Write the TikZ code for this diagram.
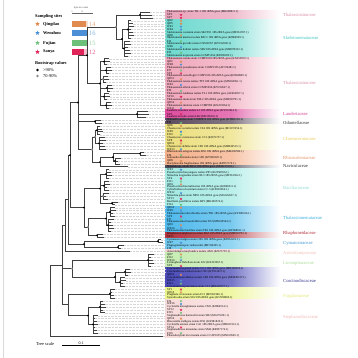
\documentclass[tikz,border=0pt]{standalone}
\usepackage{fontspec}
\setmainfont{Liberation Serif}
\usetikzlibrary{shapes.geometric}
% site colours
\definecolor{QDc}{HTML}{E08A50}
\definecolor{WZc}{HTML}{4C8FD6}
\definecolor{FJc}{HTML}{6CC07A}
\definecolor{SYc}{HTML}{E0245A}
% band colours
\definecolor{bThA}{HTML}{E9A3BA}
\definecolor{bSk}{HTML}{6ED9CF}
\definecolor{bThB}{HTML}{F0A8BC}
\definecolor{bLa}{HTML}{DE4C9E}
\definecolor{bOd}{HTML}{5B4B5E}
\definecolor{bCh}{HTML}{ECDF7E}
\definecolor{bRh}{HTML}{F4B08A}
\definecolor{bNa}{HTML}{4D4D5C}
\definecolor{bBa}{HTML}{A4EAE3}
\definecolor{bTn}{HTML}{4FBAEC}
\definecolor{bRp}{HTML}{B2353F}
\definecolor{bCy}{HTML}{6FC8EE}
\definecolor{bAs}{HTML}{F5D3D3}
\definecolor{bLi}{HTML}{C6ECB2}
\definecolor{bCo}{HTML}{4A4AB8}
\definecolor{bFr}{HTML}{EAF488}
\definecolor{bSt}{HTML}{F8DADA}
% family label colours
\definecolor{fTh}{HTML}{D98AA5}
\definecolor{fSk}{HTML}{3CC5BE}
\definecolor{fLa}{HTML}{D23D92}
\definecolor{fDk}{HTML}{333333}
\definecolor{fCh}{HTML}{E6C94A}
\definecolor{fRh}{HTML}{E49065}
\definecolor{fBa}{HTML}{8FD9D3}
\definecolor{fTn}{HTML}{38AEDF}
\definecolor{fRp}{HTML}{B02A36}
\definecolor{fCy}{HTML}{3D96CF}
\definecolor{fAs}{HTML}{F2BDB5}
\definecolor{fLi}{HTML}{A8DC94}
\definecolor{fCo}{HTML}{34348F}
\definecolor{fFr}{HTML}{E3E66E}
\definecolor{fSt}{HTML}{F0B6B6}
\tikzset{
  br/.style={draw=black!75, line width=0.55pt, line cap=rect},
  gd/.style={draw=black!16, line width=0.25pt, dash pattern=on 0.6pt off 0.8pt},
  lbl/.style={anchor=west, inner sep=0pt, font=\fontsize{2.9}{3}\selectfont},
  fam/.style={anchor=west, inner sep=0pt, font=\fontsize{4.6}{5}\selectfont},
  leg/.style={anchor=west, inner sep=0pt, font=\fontsize{4.4}{5}\selectfont},
  legb/.style={anchor=west, inner sep=0pt, font=\fontsize{4.4}{5}\selectfont\bfseries},
  mk/.style={star, star points=5, star point ratio=2.2, minimum size=2.8pt, inner sep=0pt, draw=none},
  bigmk/.style={star, star points=5, star point ratio=2.2, minimum size=4.6pt, inner sep=0pt, draw=none},
}
\newcommand\tCl[4]{%
  \draw[br] (#1,#2) -- (#1,#3);
  \foreach \r in {#2,...,#3}{%
    \pgfmathsetmacro\tp{#4+mod(\r,3)*1.5}%
    \draw[br] (#1,\r) -- (\tp,\r);
    \draw[gd] (\tp,\r) -- (165,\r);
  }%
}
\newcommand\tLf[3]{\draw[br] (#1,#2) -- (#3,#2); \draw[gd] (#3,#2) -- (165,#2);}
\newcommand\tCn[3]{\draw[br] (#1,#3) -- (#2,#3);}
\newcommand\tVt[3]{\draw[br] (#1,#2) -- (#1,#3);}
\newcommand\bB[2]{\fill[black] (#1,#2) circle (1.05pt);}
\newcommand\bG[2]{\fill[black!45] (#1,#2) circle (1.05pt);}
\begin{document}
\begin{tikzpicture}[x=1pt,y=-1pt]
\useasboundingbox (0,0) rectangle (358,358);
\fill[white] (0,0) rectangle (358,358);
\draw[black!15, line width=0.6pt] (3.5,0) -- (3.5,358);

% ---------- legend ----------
\node[anchor=south, inner sep=0pt, font=\fontsize{2.6}{3}\selectfont, text=black!70] (hdr) at (81,9.5) {Species count};
\draw[black!60, line width=0.3pt] (72,13) -- (92,13);
\foreach \t in {72,82,92}{\draw[black!60, line width=0.3pt] (\t,13) -- (\t,14.2);}
\node[anchor=south, inner sep=0pt, font=\fontsize{2.2}{2.5}\selectfont, text=black!60] at (72,12.6) {0};
\node[anchor=south, inner sep=0pt, font=\fontsize{2.2}{2.5}\selectfont, text=black!60] at (82,12.6) {10};
\node[legb] (ss) at (35,16.5) {Sampling sites};
\foreach \yy/\nm/\cc/\n in {24/Qingdao/QDc/14, 33/Wenzhou/WZc/16, 43/Fujian/FJc/15, 52/Sanya/SYc/12}{
  \node[bigmk, fill=\cc] at (37.5,\yy) {};
  \node[legb] at (43,\yy) {\nm};
  \fill[\cc!30] (72,\yy-2.6) rectangle (88,\yy+2.6);
  \fill[\cc] (72,\yy-2.6) rectangle (72+\n,\yy+2.6);
  \node[anchor=west, inner sep=0pt, font=\fontsize{6.5}{6.5}\selectfont, text=\cc!70] at (88.8,\yy) {\n};
}
\node[legb] (bv) at (35,63.5) {Bootstrap values};
\fill[black] (37.5,70) circle (1.3pt);
\node[leg] at (43,70) {>90\%};
\fill[black!45] (37.5,76) circle (1.3pt);
\node[leg] at (43,76) {70-90\%};

% tree scale
\node[leg] (ts) at (36,343.5) {Tree scale};
\coordinate (sa) at (62,345.5);
\coordinate (sb) at (100,345.5);
\draw[black, line width=0.5pt] (sa) -- (sb);
\node[anchor=south, inner sep=0pt, font=\fontsize{4}{4}\selectfont] at (81,344.3) {0.1};

\begin{scope}[yshift=-12pt, y=-2.92pt]
% ---------- bands ----------
\foreach \a/\b/\c in {0/2/bThA, 3/15/bSk, 16/33/bThB, 34/36/bLa, 37/38/bOd, 39/47/bCh, 48/52/bRh, 53/53/bNa, 54/66/bBa, 67/75/bTn, 76/77/bRp, 78/81/bCy, 82/82/bAs, 83/87/bLi, 88/94/bCo, 95/98/bFr, 99/111/bSt}{
  \shade[left color=\c, right color=\c!75!white] (165,\a-0.5) rectangle (232,\b+0.5);
  \shade[left color=\c!75!white, right color=white] (231.8,\a-0.5) rectangle (280,\b+0.5);
}
% ---------- family labels ----------
\node[fam, text=fTh] at (283,1) {Thalassiosiraceae};
\node[fam, text=fSk] at (283,8.9) {Skeletonemataceae};
\node[fam, text=fTh] at (283,24.3) {Thalassiosiraceae};
\node[fam, text=fLa] at (283,34.9) {Lauderiaceae};
\node[fam, text=fDk] at (283,38) {Odontellaceae};
\node[fam, text=fCh] at (283,43.5) {Chaetocerotaceae};
\node[fam, text=fRh] at (283,50) {Rhizosoleniaceae};
\node[fam, text=fDk] at (283,52.7) {Naviculaceae};
\node[fam, text=fBa] at (283,60.3) {Bacillariaceae};
\node[fam, text=fTn] at (283,70.5) {Thalassionemataceae};
\node[fam, text=fRp] at (283,75.7) {Rhaphoneidaceae};
\node[fam, text=fCy] at (283,79.1) {Cymatosiraceae};
\node[fam, text=fAs] at (283,82.5) {Asterolampraceae};
\node[fam, text=fLi] at (283,86) {Licmophoraceae};
\node[fam, text=fCo] at (283,92) {Coscinodiscaceae};
\node[fam, text=fFr] at (283,97.3) {Fragilariaceae};
\node[fam, text=fSt] at (283,104.5) {Stephanodiscaceae};

% ---------- leaf labels ----------
\foreach \r/\t in {
0/{Thalassiosira sp. strain TH-1 18S rRNA gene (MK089811.1)},
1/SY3, 2/SY7, 3/QD2, 4/QD5, 5/WZ1, 6/WZ4,
7/{Skeletonema costatum strain SKCT01 18S rRNA gene (MF361957.1)},
8/QD9,
9/{Skeletonema marinoi isolate BSC1 18S rRNA gene (KJ866909.1)},
10/FJ2,
11/{Skeletonema grevillei strain CNS00357 (KY912609.1)},
12/WZ6,
13/{Skeletonema dohrnii isolate SD2 18S rRNA gene (MH070332.1)},
14/FJ5,
15/{Skeletonema tropicum strain CCMP1334 (KT896035.1)},
16/{Thalassiosira rotula strain CCMP1018 18S rRNA gene (KX253959.1)},
17/QD1, 18/WZ8,
19/{Thalassiosira pseudonana strain CCMP1335 (AF374481.1)},
20/FJ7, 21/SY2,
22/{Thalassiosira weissflogii CCMP1336 18S rRNA gene (KF668609.1)},
23/QD11,
24/{Thalassiosira tenera isolate TT3 18S rRNA gene (MN160561.1)},
25/WZ2,
26/{Thalassiosira allenii strain CCMP1056 (KY912627.1)},
27/FJ9,
28/{Thalassiosira lundiana isolate TL1 18S rRNA gene (AF462057.1)},
29/SY10,
30/{Thalassiosira mala strain TM-2 18S rRNA gene (MH393791.1)},
31/QD14,
32/{Thalassiosira minima strain CCMP990 (KX253964.1)},
33/WZ11,
34/{Lauderia annulata isolate L1 18S rRNA gene (KY912614.1)},
35/SY5,
36/{Lauderia borealis strain LB2 (MF356302.1)},
37/{Odontella aurita strain CCMP816 18S rRNA gene (KT861218.1)},
38/FJ3, 39/QD6,
40/{Chaetoceros socialis isolate CS4 18S rRNA gene (MG972256.1)},
41/WZ9, 42/FJ10,
43/{Chaetoceros curvisetus strain CC1 (KJ671737.1)},
44/SY8, 45/QD12,
46/{Chaetoceros debilis strain CD1 18S rRNA gene (MH049513.1)},
47/WZ13,
48/{Rhizosolenia setigera isolate RS2 18S rRNA gene (MK300569.1)},
49/FJ6,
50/{Guinardia delicatula strain GD1 (KY980329.1)},
51/QD8,
52/{Dactyliosolen fragilissimus 18S rRNA gene (KF857170.1)},
53/{Navicula sp. strain NV-2 18S rRNA gene (MH021910.1)},
54/WZ3,
55/{Pseudo-nitzschia pungens isolate PP1 (KU958056.1)},
56/{Nitzschia longissima strain NL3 18S rRNA gene (MF361962.1)},
57/SY4, 58/FJ11, 59/QD4,
60/{Pseudo-nitzschia multiseries 18S rRNA gene (KJ866911.1)},
61/{Cylindrotheca closterium strain CC-5 (KX981816.1)},
62/WZ12,
63/{Nitzschia palea strain NP01 18S rRNA gene (MG024537.1)},
64/SY13,
65/{Bacillaria paxillifera isolate BP1 (MK300574.1)},
66/FJ14, 67/QD10, 68/WZ5,
69/{Thalassionema nitzschioides strain TN1 18S rRNA gene (KY980326.1)},
70/SY9, 71/FJ1,
72/{Thalassionema frauenfeldii isolate TF2 (MN160564.1)},
73/QD3, 74/WZ14,
75/{Thalassionema bacillare strain TB1 18S rRNA gene (KF668611.1)},
76/{Rhaphoneis amphiceros isolate RA1 18S rRNA gene (MH393793.1)},
77/SY11,
78/{Cymatosira belgica strain CB3 18S rRNA gene (KT861221.1)},
79/WZ7,
80/{Plagiogrammopsis vanheurckii (MF356305.1)},
81/FJ8,
82/{Asterolampra marylandica isolate AM1 (KJ671739.1)},
83/QD7, 84/FJ12, 85/WZ10,
86/{Licmophora flabellata strain LF2 (KX253967.1)},
87/SY6,
88/{Coscinodiscus granii isolate CG1 18S rRNA gene (MN160566.1)},
89/{Coscinodiscus wailesii strain CW1 (KY912617.1)},
90/QD13,
91/{Coscinodiscus radiatus isolate CR2 18S rRNA gene (MH049517.1)},
92/WZ15, 93/FJ13,
94/{Coscinodiscus jonesianus strain CJ-3 (MK300577.1)},
95/SY1, 96/QD15,
97/{Fragilaria crotonensis strain FC1 (MF361966.1)},
98/{Synedra ulna strain SU2 18S rRNA gene (KU958060.1)},
99/FJ4, 100/WZ16,
101/{Cyclotella meneghiniana isolate CM1 (KJ866914.1)},
102/SY12, 103/FJ15,
104/{Stephanodiscus hantzschii strain SH2 (MG972261.1)},
105/QD16,
106/{Discostella stelligera isolate DS1 (KX981820.1)},
107/{Cyclotella atomus strain CA1 18S rRNA gene (MH021914.1)},
108/SY14,
109/{Stephanodiscus minutulus strain SM4 (KF857174.1)},
110/FJ16,
111/{Phaeodactylum tricornutum strain CCAP1055 (MN160569.1)}}{
  \node[lbl] at (167,\r) {\t};
}
\foreach \r/\c in {1/SYc,2/SYc,3/QDc,4/QDc,5/WZc,6/WZc,8/QDc,10/FJc,12/WZc,14/FJc,17/QDc,18/WZc,20/FJc,21/SYc,23/QDc,25/WZc,27/FJc,29/SYc,31/QDc,33/WZc,35/SYc,38/FJc,39/QDc,41/WZc,42/FJc,44/SYc,45/QDc,47/WZc,49/FJc,51/QDc,54/WZc,57/SYc,58/FJc,59/QDc,62/WZc,64/SYc,66/FJc,67/QDc,68/WZc,70/SYc,71/FJc,73/QDc,74/WZc,77/SYc,79/WZc,81/FJc,83/QDc,84/FJc,85/WZc,87/SYc,90/QDc,92/WZc,93/FJc,95/SYc,96/QDc,99/FJc,100/WZc,102/SYc,103/FJc,105/QDc,108/SYc,110/FJc}{
  \node[mk, fill=\c] at (181,\r) {};
}

% ---------- tree ----------
\tCl{140}{0}{2}{150} \tCn{116}{140}{1}
\tCl{128}{3}{9}{131} \tCn{122}{128}{6}
\tCl{124}{10}{15}{128} \tCn{122}{124}{12.5}
\tVt{122}{6}{12.5} \tCn{116}{122}{9.25}
\tVt{116}{1}{9.25} \tCn{87}{116}{5.1}
\tCl{104}{16}{18}{107} \tCn{100}{104}{17}
\tCl{106}{19}{21}{109} \tCn{100}{106}{20}
\tCl{103}{22}{24}{106} \tCn{100}{103}{23}
\tCl{107}{25}{27}{110} \tCn{100}{107}{26}
\tCl{104}{28}{30}{107} \tCn{100}{104}{29}
\tCl{106}{31}{33}{109} \tCn{100}{106}{32}
\tVt{100}{17}{32} \tCn{87}{100}{24.5}
\tVt{87}{5.1}{24.5} \tCn{78}{87}{14.8}
\tCl{137}{34}{36}{146} \tCn{78}{137}{35}
\tCl{95}{37}{38}{99} \tCn{78}{95}{37.5}
\tCl{97}{39}{42}{100} \tCn{95}{97}{40.5}
\tCl{99}{43}{47}{103} \tCn{95}{99}{45}
\tVt{95}{40.5}{45} \tCn{92}{95}{42.75}
\tCl{140}{48}{49}{144} \tCn{113}{140}{48.5}
\tCl{115}{50}{52}{118} \tCn{113}{115}{51}
\tVt{113}{48.5}{51} \tCn{100}{113}{49.75}
\tLf{100}{53}{128}
\tVt{100}{49.75}{53} \tCn{92}{100}{51.4}
\tVt{92}{42.75}{51.4} \tCn{78}{92}{47.1}
\tVt{78}{14.8}{47.1} \tCn{70}{78}{31}
\tCl{106}{54}{57}{109} \tCn{100}{106}{55.5}
\tCl{104}{58}{61}{107} \tCn{100}{104}{59.5}
\tCl{103}{62}{64}{106} \tCn{100}{103}{63}
\tCl{112}{65}{66}{115} \tCn{100}{112}{65.5}
\tVt{100}{55.5}{65.5} \tCn{84}{100}{60.5}
\tCl{110}{67}{70}{113} \tCn{106}{110}{68.5}
\tCl{108}{71}{75}{111} \tCn{106}{108}{73}
\tVt{106}{68.5}{73} \tCn{88}{106}{70.75}
\tCl{97}{76}{77}{101} \tCn{88}{97}{76.5}
\tVt{88}{70.75}{76.5} \tCn{84}{88}{73.6}
\tVt{84}{60.5}{73.6} \tCn{70}{84}{67}
\tVt{70}{31}{67} \tCn{68}{70}{49}
\tCl{158}{78}{79}{161} \tCn{84}{158}{78.5}
\tCl{118}{80}{81}{121} \tCn{84}{118}{80.5}
\tVt{84}{78.5}{80.5} \tCn{68}{84}{79.5}
\tVt{68}{49}{79.5} \tCn{65}{68}{64.25}
\tLf{65}{82}{130}
\tVt{65}{64.25}{82} \tCn{62}{65}{73.1}
\tCl{148}{83}{87}{151} \tCn{72}{148}{85}
\tCl{125}{88}{90}{128} \tCn{115}{125}{89}
\tCl{120}{91}{94}{123} \tCn{115}{120}{92.5}
\tVt{115}{89}{92.5} \tCn{72}{115}{90.75}
\tVt{72}{85}{90.75} \tCn{62}{72}{87.9}
\tCl{110}{95}{98}{112} \tCn{68}{110}{96.5}
\tCl{100}{99}{103}{103} \tCn{88}{100}{101}
\tCl{93}{104}{110}{95} \tCn{88}{93}{107}
\tVt{88}{101}{107} \tCn{68}{88}{104}
\tVt{68}{96.5}{104} \tCn{62}{68}{100.25}
\tVt{62}{73.1}{100.25} \tCn{50}{62}{86.7}
\tLf{50}{111}{163}
\tVt{50}{86.7}{111}

% ---------- bootstrap symbols ----------
\bB{140}{1} \bB{128}{6} \bB{124}{12.5} \bB{122}{9.25} \bG{116}{5.1}
\bB{104}{17} \bB{106}{20} \bG{103}{23} \bB{107}{26} \bB{104}{29} \bB{106}{32}
\bB{100}{24.5} \bB{87}{14.8}
\bB{137}{35} \bB{95}{37.5}
\bB{97}{40.5} \bB{99}{45} \bG{95}{42.75}
\bB{140}{48.5} \bB{115}{51} \bB{113}{49.75} \bB{100}{51.4} \bG{92}{47.1}
\bB{78}{31}
\bB{106}{55.5} \bB{104}{59.5} \bG{103}{63} \bB{112}{65.5} \bB{100}{60.5}
\bB{110}{68.5} \bB{108}{73} \bB{106}{70.75} \bB{97}{76.5} \bG{88}{73.6} \bB{84}{67}
\bB{70}{49}
\bB{158}{78.5} \bB{118}{80.5} \bB{84}{79.5}
\bB{148}{85} \bB{125}{89} \bB{120}{92.5} \bB{115}{90.75} \bG{72}{87.9}
\bB{110}{96.5} \bB{100}{101} \bB{93}{107} \bB{88}{104}
\end{scope}
\end{tikzpicture}
\end{document}
